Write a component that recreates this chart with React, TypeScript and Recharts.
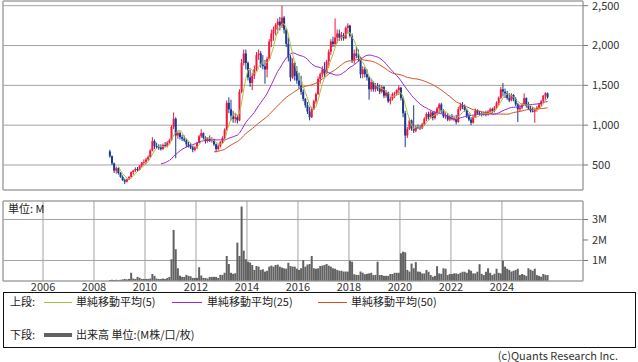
import React from 'react';
import { ComposedChart, Bar, Line, XAxis, YAxis, CartesianGrid, ReferenceLine } from 'recharts';

// ---- data (monthly, first candle = Aug 2008) ----
const startYear = 2008;
const startMonth = 8;

const opens = [
  670, 610, 520, 430, 460,
  400, 350, 310, 290, 320, 350, 410, 430, 450, 440, 490, 530,
  540, 570, 600, 680, 800, 740, 730, 720, 700, 750, 740, 780,
  810, 980, 1080, 870, 900, 850, 830, 810, 760, 740, 720, 690,
  720, 780, 860, 900, 840, 800, 830, 810, 820, 760, 700, 740,
  790, 840, 940, 1280, 1200, 1120, 1080, 1100, 1060, 1420, 1780, 1900,
  1780, 1600, 1530, 1620, 1700, 1880, 1900, 1760, 1740, 1700, 1830, 2050,
  2150, 2200, 2260, 2300, 2250, 2350, 2200, 2020, 1850, 1600, 1780, 1680,
  1560, 1500, 1420, 1330, 1250, 1170, 1100, 1200, 1300, 1390, 1580, 1640,
  1700, 1650, 1800, 1920, 2050, 2020, 2100, 2150, 2100, 2130, 2090, 2220,
  2250, 2120, 1820, 1900, 1870, 1850, 1640, 1700, 1640, 1600, 1450, 1540,
  1450, 1500, 1460, 1420, 1480, 1370, 1410, 1300, 1330, 1390, 1400, 1440,
  1470, 1340, 1150, 870, 950, 1060, 960, 930, 980, 970, 960, 1010,
  1080, 1140, 1100, 1160, 1090, 1150, 1210, 1260, 1180, 1110, 1120, 1070,
  1110, 1080, 1090, 1040, 1200, 1250, 1230, 1190, 1110, 1070, 1030, 1100,
  1180, 1150, 1140, 1130, 1160, 1130, 1170, 1200, 1180, 1220, 1280, 1340,
  1450, 1420, 1400, 1340, 1310, 1380, 1330, 1260, 1200, 1220, 1260, 1340,
  1240, 1210, 1180, 1170, 1190, 1220, 1260, 1300, 1370, 1400,
];

const highs = [
  690, 620, 530, 480, 470,
  410, 370, 330, 330, 360, 420, 440, 470, 475, 500, 540, 570,
  590, 620, 700, 850, 820, 780, 760, 760, 770, 790, 800, 830,
  1000, 1160, 1100, 930, 920, 880, 870, 830, 790, 780, 740, 740,
  790, 880, 950, 910, 860, 850, 870, 850, 830, 770, 760, 800,
  860, 960, 1310, 1350, 1320, 1180, 1150, 1130, 1450, 1830, 1950, 1950,
  1800, 1700, 1660, 1750, 1920, 1950, 1930, 1880, 1820, 1860, 2080, 2200,
  2240, 2280, 2340, 2360, 2500, 2370, 2220, 2100, 1880, 1840, 1800, 1740,
  1660, 1620, 1450, 1340, 1290, 1230, 1230, 1320, 1410, 1610, 1660, 1740,
  1790, 1820, 1950, 2080, 2110, 2340, 2200, 2200, 2170, 2160, 2240, 2280,
  2260, 2150, 1950, 1990, 1950, 1860, 1740, 1730, 1700, 1620, 1580, 1550,
  1530, 1530, 1510, 1500, 1490, 1440, 1420, 1360, 1410, 1420, 1450, 1500,
  1480, 1360, 1180, 980, 1090, 1070, 1250, 1000, 1010, 1000, 1030, 1100,
  1160, 1170, 1180, 1170, 1180, 1230, 1280, 1280, 1200, 1160, 1150, 1130,
  1140, 1120, 1130, 1230, 1280, 1290, 1260, 1210, 1150, 1100, 1120, 1210,
  1200, 1180, 1170, 1170, 1180, 1190, 1220, 1220, 1240, 1300, 1360, 1480,
  1530, 1460, 1430, 1400, 1400, 1390, 1350, 1280, 1260, 1280, 1400, 1350,
  1290, 1240, 1230, 1220, 1240, 1280, 1320, 1380, 1415, 1410,
];

const lows = [
  590, 500, 400, 390, 380,
  340, 300, 260, 280, 310, 340, 380, 410, 420, 430, 470, 500,
  510, 550, 590, 670, 700, 700, 690, 680, 690, 720, 720, 760,
  800, 950, 585, 830, 820, 800, 790, 720, 720, 700, 660, 670,
  700, 770, 840, 820, 770, 780, 790, 780, 740, 660, 680, 720,
  770, 820, 930, 1150, 1060, 1030, 1030, 1020, 1050, 1400, 1750, 1700,
  1560, 1480, 1440, 1580, 1680, 1820, 1720, 1700, 1520, 1600, 1820, 1980,
  2060, 2130, 2150, 2190, 2220, 2150, 1980, 1800, 1550, 1580, 1560, 1520,
  1460, 1380, 1300, 1220, 1140, 1060, 1090, 1190, 1270, 1380, 1520, 1600,
  1600, 1640, 1720, 1880, 1980, 1980, 2030, 2060, 2060, 2060, 2080, 2150,
  2100, 1780, 1770, 1840, 1800, 1590, 1590, 1600, 1560, 1320, 1420, 1420,
  1420, 1430, 1390, 1400, 1340, 1340, 1280, 1260, 1310, 1340, 1370, 1380,
  1310, 1100, 725, 840, 940, 930, 900, 910, 950, 940, 950, 990,
  1050, 1070, 1080, 1060, 1070, 1120, 1150, 1150, 1090, 1080, 1050, 1050,
  1060, 1050, 1010, 1030, 1180, 1200, 1170, 1090, 1050, 1000, 1020, 1090,
  1130, 1120, 1110, 1120, 1110, 1120, 1150, 1150, 1160, 1200, 1250, 1330,
  1360, 1340, 1320, 1290, 1300, 1300, 1240, 1040, 1170, 1200, 1250, 1220,
  1190, 1160, 1160, 1030, 1170, 1200, 1230, 1290, 1320, 1330,
];

const closes = [
  610, 520, 430, 460, 400,
  350, 310, 290, 320, 350, 410, 430, 450, 440, 490, 530, 540,
  570, 600, 680, 800, 740, 730, 720, 700, 750, 740, 780, 810,
  980, 1080, 870, 900, 850, 830, 810, 760, 740, 720, 690, 720,
  780, 860, 900, 840, 800, 830, 810, 820, 760, 700, 740, 790,
  840, 940, 1280, 1200, 1120, 1080, 1100, 1060, 1420, 1780, 1900, 1780,
  1600, 1530, 1620, 1700, 1880, 1900, 1760, 1740, 1700, 1830, 2050, 2150,
  2200, 2260, 2300, 2250, 2350, 2200, 2020, 1850, 1600, 1780, 1620, 1560,
  1500, 1420, 1330, 1250, 1170, 1100, 1200, 1300, 1390, 1580, 1640, 1700,
  1650, 1800, 1920, 2050, 2020, 2100, 2150, 2100, 2130, 2090, 2220, 2250,
  2120, 1820, 1900, 1870, 1850, 1640, 1700, 1640, 1600, 1450, 1540, 1450,
  1500, 1460, 1420, 1480, 1370, 1410, 1300, 1330, 1390, 1400, 1440, 1470,
  1340, 1150, 870, 950, 1060, 960, 930, 980, 970, 960, 1010, 1080,
  1140, 1100, 1160, 1090, 1150, 1210, 1260, 1180, 1110, 1120, 1070, 1110,
  1080, 1090, 1040, 1200, 1250, 1230, 1190, 1110, 1070, 1030, 1100, 1180,
  1150, 1140, 1130, 1160, 1130, 1170, 1200, 1180, 1220, 1280, 1340, 1450,
  1420, 1400, 1340, 1310, 1380, 1330, 1260, 1200, 1220, 1260, 1340, 1240,
  1210, 1180, 1170, 1190, 1220, 1260, 1300, 1370, 1400, 1350,
];

// monthly volume, in millions
const volumes = [
  0.05, 0.06, 0.05, 0.06, 0.05,
  0.06, 0.08, 0.1, 0.08, 0.1, 0.4, 0.12, 0.1, 0.2, 0.15, 0.1, 0.1,
  0.1, 0.1, 0.12, 0.34, 0.25, 0.12, 0.1, 0.1, 0.12, 0.1, 0.15, 0.2,
  1.06, 2.49, 1.55, 0.62, 0.26, 0.2, 0.2, 0.3, 0.25, 0.23, 0.15, 0.15,
  0.15, 0.67, 0.27, 0.15, 0.15, 0.12, 0.2, 0.2, 0.2, 0.2, 0.15, 0.3,
  0.3, 0.4, 1.22, 0.83, 0.4, 0.35, 0.38, 1.87, 1.22, 3.63, 1.48, 1.06,
  0.94, 0.9, 0.78, 0.54, 0.73, 0.7, 0.54, 0.57, 0.46, 0.5, 0.7, 0.75,
  0.7, 0.78, 0.8, 0.7, 0.65, 0.62, 0.6, 0.89, 0.73, 0.7, 0.7, 0.6,
  0.54, 0.62, 1.02, 0.7, 0.8, 0.83, 1.22, 0.62, 0.6, 0.62, 0.73, 0.75,
  0.78, 0.83, 0.75, 0.7, 0.62, 0.6, 0.54, 0.5, 0.5, 0.46, 0.46, 0.46,
  0.99, 0.94, 0.33, 0.3, 0.29, 0.46, 0.4, 0.33, 0.35, 0.37, 0.4, 0.29,
  0.3, 0.94, 0.29, 0.29, 0.25, 0.25, 0.25, 0.34, 0.34, 0.4, 0.4, 0.4,
  1.35, 1.43, 1.4, 0.54, 0.46, 0.85, 0.62, 0.92, 0.46, 0.45, 0.37, 0.37,
  0.54, 0.45, 0.29, 0.21, 0.25, 0.72, 0.37, 0.35, 0.62, 0.6, 0.29, 0.34,
  0.34, 0.37, 0.37, 0.34, 0.4, 0.45, 0.45, 0.4, 0.56, 0.5, 0.37, 0.37,
  0.45, 0.82, 0.35, 0.29, 0.45, 0.62, 0.4, 0.29, 0.35, 0.6, 0.4, 0.37,
  0.99, 0.7, 0.6, 0.54, 0.46, 0.5, 0.54, 0.6, 0.29, 0.34, 0.3, 0.25,
  0.62, 0.55, 0.5, 0.6, 0.29, 0.25, 0.21, 0.34, 0.3, 0.29,
];

const yearTicks = [2006, 2008, 2010, 2012, 2014, 2016, 2018, 2020, 2022, 2024];
const priceTicks = [500, 1000, 1500, 2000, 2500];
const volumeTicks = [1, 2, 3];
const maPeriods = [5, 25, 50];

// ---- styling ----
const FONT = "'Noto Sans CJK JP', 'Noto Sans', sans-serif";
const X_MIN = 2004.43;
const X_MAX = 2027.18;
const P_MIN = 186;
const P_MAX = 2559;
const V_MAX = 3.9;
const GRID = '#a3a3a3';
const UP = '#f2173f';
const DOWN = '#1a3a92';
const MA_COLORS = ['#a9c23c', '#9a2ad2', '#d4521f'];
const VOL = '#626262';

const sma = (n: number) =>
  closes.map((_, i) => {
    if (i < n - 1) return null;
    let s = 0;
    for (let k = i - n + 1; k <= i; k++) s += closes[k];
    return s / n;
  });

const maSeries = maPeriods.map(sma);

const data = closes.map((c, i) => ({
  t: startYear + (startMonth - 1 + i + 0.5) / 12,
  o: opens[i],
  h: highs[i],
  l: lows[i],
  c,
  range: [lows[i], highs[i]],
  v: volumes[i],
  ma5: maSeries[0][i],
  ma25: maSeries[1][i],
  ma50: maSeries[2][i],
}));

const Candle = (props: any) => {
  const { x, y, width, height, payload } = props;
  if (!payload || height == null) return null;
  const { o, h, l, c } = payload;
  const color = c >= o ? UP : DOWN;
  const ratio = h - l > 0 ? height / (h - l) : 0;
  const cx = x + width / 2;
  const top = y + (h - Math.max(o, c)) * ratio;
  const bh = Math.max(1, Math.abs(o - c) * ratio);
  return (
    <g>
      <line x1={cx} x2={cx} y1={y} y2={y + height} stroke={color} strokeWidth={1} />
      <rect x={x} y={top} width={width} height={bh} fill={color} />
    </g>
  );
};

const tickStyle = { fontSize: 11, fill: '#333', fontFamily: FONT };

const border = (yMin: number, yMax: number) => [
  <ReferenceLine key="bt" y={yMax} stroke={GRID} />,
  <ReferenceLine key="bb" y={yMin} stroke={GRID} />,
  <ReferenceLine key="bl" x={X_MIN} stroke={GRID} />,
  <ReferenceLine key="br" x={X_MAX} stroke={GRID} />,
];

export default function App() {
  return (
    <div style={{ position: 'absolute', left: 0, top: 0, width: 638, height: 362, background: '#fff', fontFamily: FONT }}>
      <div style={{ position: 'absolute', left: 0, top: 0 }}>
        <ComposedChart width={638} height={195} data={data} margin={{ top: 1, right: 0, bottom: 5, left: 3 }}>
          <CartesianGrid stroke={GRID} />
          <XAxis
            dataKey="t"
            type="number"
            domain={[X_MIN, X_MAX]}
            ticks={yearTicks}
            allowDataOverflow
            height={0}
            tick={false}
            axisLine={false}
            tickLine={false}
          />
          <YAxis
            orientation="right"
            domain={[P_MIN, P_MAX]}
            ticks={priceTicks}
            allowDataOverflow
            width={55}
            axisLine={false}
            tickLine={{ stroke: '#777' }}
            tickSize={5}
            tickMargin={4}
            tick={tickStyle}
            tickFormatter={(v: number) => v.toLocaleString('en-US')}
          />
          {border(P_MIN, P_MAX)}
          <Bar dataKey="range" barSize={2} shape={<Candle />} isAnimationActive={false} />
          <Line dataKey="ma50" stroke={MA_COLORS[2]} dot={false} strokeWidth={1} isAnimationActive={false} />
          <Line dataKey="ma25" stroke={MA_COLORS[1]} dot={false} strokeWidth={1} isAnimationActive={false} />
          <Line dataKey="ma5" stroke={MA_COLORS[0]} dot={false} strokeWidth={1} isAnimationActive={false} />
        </ComposedChart>
      </div>
      <div style={{ position: 'absolute', left: 0, top: 195 }}>
        <ComposedChart width={638} height={106} data={data} margin={{ top: 6, right: 0, bottom: 0, left: 3 }}>
          <CartesianGrid stroke={GRID} />
          <XAxis
            dataKey="t"
            type="number"
            domain={[X_MIN, X_MAX]}
            ticks={yearTicks}
            allowDataOverflow
            height={20}
            axisLine={false}
            tickLine={false}
            tickSize={0}
            tickMargin={2}
            tick={tickStyle}
          />
          <YAxis
            orientation="right"
            domain={[0, V_MAX]}
            ticks={volumeTicks}
            allowDataOverflow
            width={55}
            axisLine={false}
            tickLine={{ stroke: '#777' }}
            tickSize={5}
            tickMargin={4}
            tick={tickStyle}
            tickFormatter={(v: number) => `${v}M`}
          />
          {border(0, V_MAX)}
          <Bar dataKey="v" barSize={2} fill={VOL} isAnimationActive={false} />
        </ComposedChart>
      </div>
      <svg width={638} height={362} style={{ position: 'absolute', left: 0, top: 0, pointerEvents: 'none' }}>
        <g fontFamily={FONT} fontSize={11} fill="#222">
          <text x={8} y={213}>単位: M</text>
          <rect x={3.5} y={292.5} width={632} height={55} fill="none" stroke="#111" />
          <text x={10} y={306}>上段:</text>
          <line x1={44} x2={72} y1={302.5} y2={302.5} stroke={MA_COLORS[0]} />
          <text x={76} y={306}>単純移動平均(5)</text>
          <line x1={172} x2={202} y1={302.5} y2={302.5} stroke={MA_COLORS[1]} />
          <text x={207} y={306}>単純移動平均(25)</text>
          <line x1={318} x2={347} y1={302.5} y2={302.5} stroke={MA_COLORS[2]} />
          <text x={351} y={306}>単純移動平均(50)</text>
          <text x={10} y={339}>下段:</text>
          <rect x={44} y={333} width={28} height={4} fill={VOL} />
          <text x={76} y={339}>出来高 単位:(M株/口/枚)</text>
          <text x={618} y={360} textAnchor="end" fill="#333">(c)Quants Research Inc.</text>
        </g>
      </svg>
    </div>
  );
}
